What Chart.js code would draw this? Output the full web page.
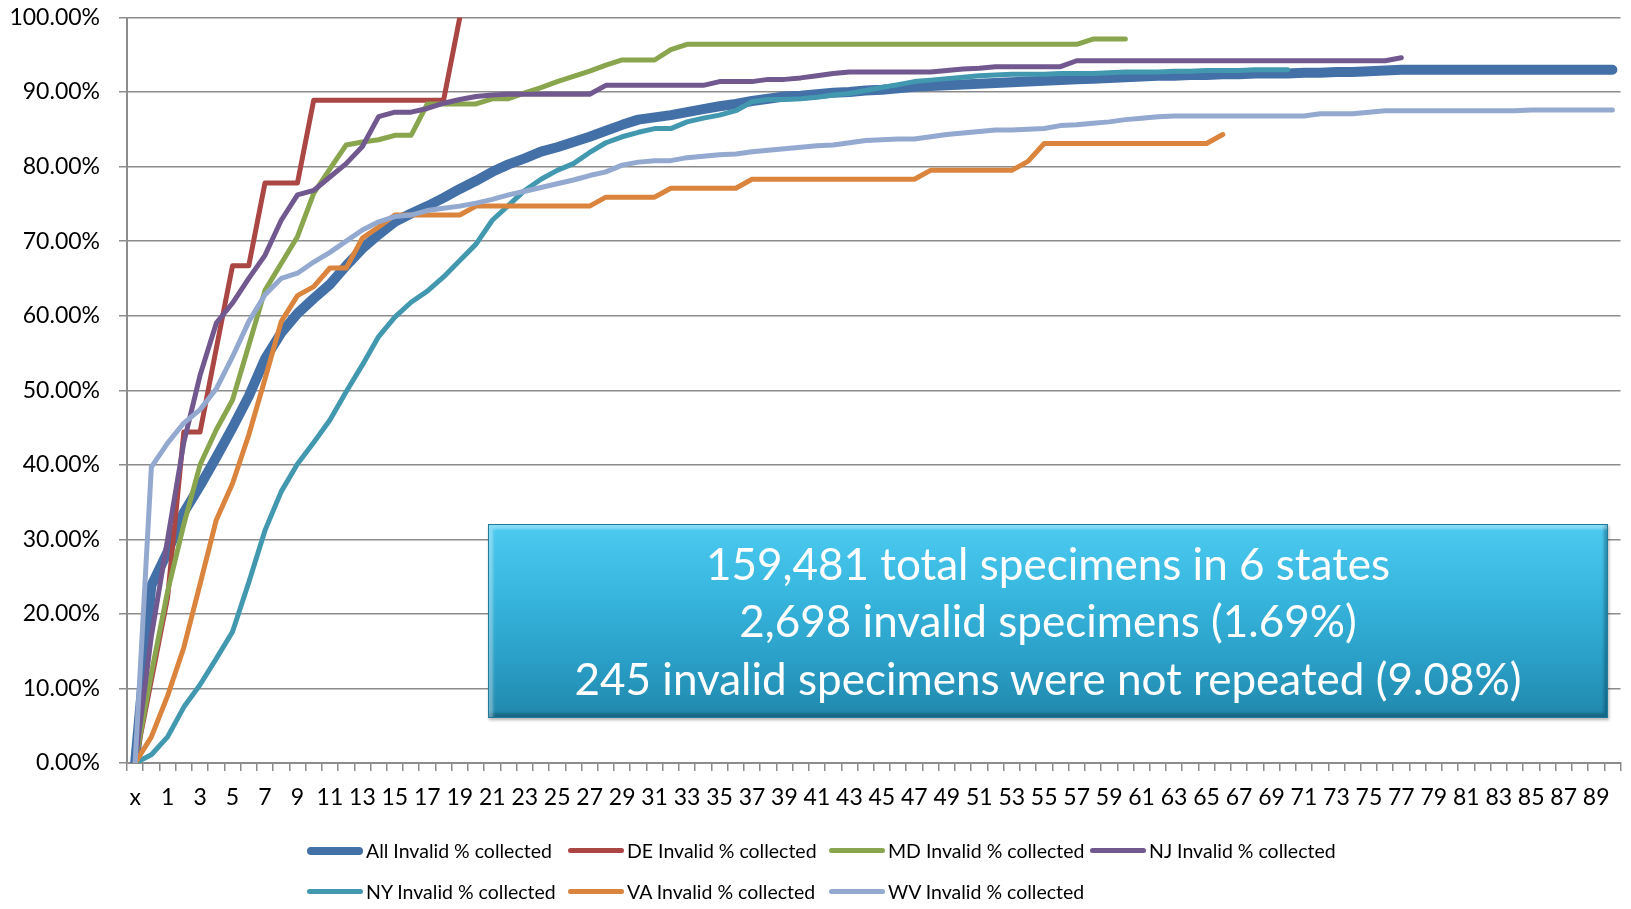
<!DOCTYPE html>
<html>
<head>
<meta charset="utf-8">
<title>Invalid specimens collected</title>
<script src="https://cdn.jsdelivr.net/npm/chart.js@4.4.0/dist/chart.umd.min.js"></script>
<style>
  body { margin: 0; background: #fff; }
  #wrap { position: relative; width: 1631px; height: 909px; }
  #note {
    position: absolute; left: 488px; top: 524px; width: 1120px; height: 194px;
    box-sizing: border-box;
    display: flex; flex-direction: column; justify-content: center; align-items: center;
    font-family: Lato, "Open Sans", sans-serif; font-size: 44px; line-height: 57.5px; color: #fff;
    background: linear-gradient(180deg, #4ccaf0 0%, #38b7df 35%, #2a9fc7 70%, #2188ac 100%);
    border: 1px solid #1f7c9b;
    box-shadow: inset 4px 4px 3px rgba(255,255,255,.35), inset -3px -4px 3px rgba(0,40,60,.35), 1px 2px 3px rgba(0,0,0,.3);
  }
  #legend {
    position: absolute; left: 307px; top: 830px;
    display: grid; grid-template-columns: repeat(4, 261px);
    font-family: Lato, "Open Sans", sans-serif; font-size: 19.5px; color: #000;
  }
  #legend .item { display: flex; align-items: center; height: 41px; white-space: nowrap; }
  #legend .sw { width: 56px; border-radius: 4px; margin-right: 3px; }
</style>
</head>
<body>
<div id="wrap">
  <canvas id="chart" width="1631" height="909"></canvas>
  <div id="note">
    <div>159,481 total specimens in 6 states</div>
    <div>2,698 invalid specimens (1.69%)</div>
    <div>245 invalid specimens were not repeated (9.08%)</div>
  </div>
  <div id="legend"></div>
</div>
<script>
// days since invalid result ("x" = the invalid test itself)
const days = ['x', '0', '1', '2', '3', '4', '5', '6', '7', '8', '9',
  '10', '11', '12', '13', '14', '15', '16', '17', '18', '19',
  '20', '21', '22', '23', '24', '25', '26', '27', '28', '29',
  '30', '31', '32', '33', '34', '35', '36', '37', '38', '39',
  '40', '41', '42', '43', '44', '45', '46', '47', '48', '49',
  '50', '51', '52', '53', '54', '55', '56', '57', '58', '59',
  '60', '61', '62', '63', '64', '65', '66', '67', '68', '69',
  '70', '71', '72', '73', '74', '75', '76', '77', '78', '79',
  '80', '81', '82', '83', '84', '85', '86', '87', '88', '89', '90'];

const allInvalid = [0, 23.8, 28.3, 33.6, 37.2, 41.0, 45.0, 49.2, 54.2, 57.7,
  60.3, 62.3, 64.2, 66.7, 69.0, 70.9, 72.6, 73.7, 74.7, 75.8,
  77.0, 78.1, 79.3, 80.3, 81.1, 82.0, 82.6, 83.3, 84.0, 84.8,
  85.6, 86.3, 86.6, 86.9, 87.3, 87.7, 88.1, 88.4, 88.8, 89.1,
  89.4, 89.5, 89.7, 89.9, 90.0, 90.2, 90.3, 90.5, 90.7, 90.8,
  90.9, 91.0, 91.1, 91.2, 91.3, 91.4, 91.5, 91.6, 91.7, 91.8,
  91.9, 92.0, 92.1, 92.2, 92.2, 92.3, 92.3, 92.4, 92.4, 92.5,
  92.5, 92.5, 92.6, 92.6, 92.7, 92.7, 92.8, 92.9, 93.0, 93.0,
  93.0, 93.0, 93.0, 93.0, 93.0, 93.0, 93.0, 93.0, 93.0, 93.0, 93.0, 93.0];

const deInvalid = [0, 11.1, 22.2, 44.4, 44.4, 55.6, 66.7, 66.7, 77.8, 77.8,
  77.8, 88.9, 88.9, 88.9, 88.9, 88.9, 88.9, 88.9, 88.9, 88.9, 100];

const mdInvalid = [0, 12, 23, 32, 40, 44.7, 48.7, 56.0, 63.4, 67.0,
  70.6, 76.4, 79.7, 82.9, 83.3, 83.6, 84.2, 84.2, 88.4, 88.4,
  88.4, 88.4, 89.1, 89.1, 89.9, 90.6, 91.4, 92.1, 92.8, 93.6,
  94.3, 94.3, 94.3, 95.7, 96.4, 96.4, 96.4, 96.4, 96.4, 96.4,
  96.4, 96.4, 96.4, 96.4, 96.4, 96.4, 96.4, 96.4, 96.4, 96.4,
  96.4, 96.4, 96.4, 96.4, 96.4, 96.4, 96.4, 96.4, 96.4, 97.1,
  97.1, 97.1];

const njInvalid = [0, 17, 30, 43, 52, 59.0, 61.7, 65.0, 68.1, 72.8,
  76.2, 76.8, 78.6, 80.4, 82.7, 86.7, 87.3, 87.3, 87.8, 88.5,
  89.0, 89.4, 89.6, 89.7, 89.7, 89.7, 89.7, 89.7, 89.7, 90.9,
  90.9, 90.9, 90.9, 90.9, 90.9, 90.9, 91.4, 91.4, 91.4, 91.7,
  91.7, 91.9, 92.2, 92.5, 92.7, 92.7, 92.7, 92.7, 92.7, 92.7,
  92.9, 93.1, 93.2, 93.4, 93.4, 93.4, 93.4, 93.4, 94.2, 94.2,
  94.2, 94.2, 94.2, 94.2, 94.2, 94.2, 94.2, 94.2, 94.2, 94.2,
  94.2, 94.2, 94.2, 94.2, 94.2, 94.2, 94.2, 94.2, 94.6];

const nyInvalid = [0, 1.1, 3.5, 7.5, 10.5, 14.0, 17.6, 24.2, 31.2, 36.4,
  40.1, 43.0, 46.0, 49.8, 53.4, 57.2, 59.8, 61.8, 63.3, 65.2,
  67.4, 69.6, 72.8, 74.8, 76.8, 78.3, 79.5, 80.4, 81.9, 83.2,
  84.0, 84.6, 85.1, 85.1, 86.0, 86.5, 86.9, 87.5, 88.7, 89.0,
  89.0, 89.1, 89.3, 89.6, 89.8, 90.2, 90.6, 91.0, 91.4, 91.6,
  91.8, 92.0, 92.2, 92.3, 92.4, 92.4, 92.4, 92.5, 92.5, 92.5,
  92.6, 92.7, 92.7, 92.7, 92.8, 92.8, 92.9, 92.9, 92.9, 93.0,
  93.0, 93.0];

const vaInvalid = [0, 3.5, 9.0, 15.5, 24.0, 32.6, 37.5, 44.0, 51.5, 59.2,
  62.7, 63.9, 66.4, 66.4, 70.4, 71.9, 73.5, 73.5, 73.5, 73.5,
  73.5, 74.7, 74.7, 74.7, 74.7, 74.7, 74.7, 74.7, 74.7, 75.9,
  75.9, 75.9, 75.9, 77.1, 77.1, 77.1, 77.1, 77.1, 78.3, 78.3,
  78.3, 78.3, 78.3, 78.3, 78.3, 78.3, 78.3, 78.3, 78.3, 79.5,
  79.5, 79.5, 79.5, 79.5, 79.5, 80.7, 83.1, 83.1, 83.1, 83.1,
  83.1, 83.1, 83.1, 83.1, 83.1, 83.1, 83.1, 84.3];

const wvInvalid = [0, 39.7, 42.9, 45.6, 47.4, 50.2, 54.5, 59.2, 62.8, 65.0,
  65.7, 67.2, 68.5, 70.0, 71.5, 72.6, 73.3, 73.5, 74.1, 74.4,
  74.7, 75.1, 75.6, 76.2, 76.7, 77.2, 77.7, 78.2, 78.8, 79.3,
  80.2, 80.6, 80.8, 80.8, 81.2, 81.4, 81.6, 81.7, 82.0, 82.2,
  82.4, 82.6, 82.8, 82.9, 83.2, 83.5, 83.6, 83.7, 83.7, 84.0,
  84.3, 84.5, 84.7, 84.9, 84.9, 85.0, 85.1, 85.5, 85.6, 85.8,
  86.0, 86.3, 86.5, 86.7, 86.8, 86.8, 86.8, 86.8, 86.8, 86.8,
  86.8, 86.8, 86.8, 87.1, 87.1, 87.1, 87.3, 87.5, 87.5, 87.5,
  87.5, 87.5, 87.5, 87.5, 87.5, 87.5, 87.6, 87.6, 87.6, 87.6, 87.6, 87.6];

const seriesNames = ['All Invalid % collected', 'DE Invalid % collected', 'MD Invalid % collected',
  'NJ Invalid % collected', 'NY Invalid % collected', 'VA Invalid % collected', 'WV Invalid % collected'];
const seriesValues = [allInvalid, deInvalid, mdInvalid, njInvalid, nyInvalid, vaInvalid, wvInvalid];

const colors = ['#4470a8', '#aa4643', '#89a54e', '#71588f', '#4198af', '#db843d', '#93a9cf'];
const gridColor = '#8c8c8c';
const tickFont = { family: 'Lato', size: 23 };

const datasets = seriesValues.map((vals, k) => ({
  label: seriesNames[k],
  data: vals,
  borderColor: colors[k],
  backgroundColor: colors[k],
  borderWidth: k === 0 ? 10 : 5,
  pointRadius: 0,
  tension: 0,
  fill: false,
  borderCapStyle: 'round',
  borderJoinStyle: 'round',
  order: seriesValues.length - k   // later series on top, like Excel
}));

const config = {
  type: 'line',
  data: { labels: days, datasets: datasets },
  options: {
    responsive: false,
    animation: false,
    layout: { padding: { top: 17.5, right: 10.5, left: 0, bottom: 0 } },
    plugins: {
      legend: { display: false },
      tooltip: { enabled: false }
    },
    scales: {
      x: {
        type: 'category',
        offset: true,
        afterFit: s => { s.height = 146; },
        grid: { offset: true, drawOnChartArea: false, drawTicks: true, tickLength: 8, color: gridColor, lineWidth: 1.5 },
        border: { color: gridColor, width: 2 },
        ticks: {
          autoSkip: false, maxRotation: 0, minRotation: 0,
          font: tickFont, color: '#000', padding: 13,
          callback: function (v, i) { return i % 2 === 0 ? this.getLabelForValue(v) : ''; }
        }
      },
      y: {
        min: 0, max: 100,
        // fixed axis width; don't let tick padding push the plot down
        afterFit: s => { s.width = 127; s.paddingTop = 4; s.paddingBottom = 4; },
        grid: { color: gridColor, lineWidth: 1.5, tickLength: 8 },
        border: { color: gridColor, width: 2 },
        ticks: {
          stepSize: 10, font: tickFont, color: '#000', padding: 19,
          callback: v => v.toFixed(2) + '%'
        }
      }
    }
  }
};

const myChart = new Chart(document.getElementById('chart'), config);

// legend laid out in fixed columns, as in the original
const legend = document.getElementById('legend');
myChart.data.datasets.forEach(ds => {
  const item = document.createElement('div');
  item.className = 'item';
  const sw = document.createElement('span');
  sw.className = 'sw';
  sw.style.background = ds.borderColor;
  sw.style.height = (ds.borderWidth === 10 ? 8 : 5) + 'px';
  item.appendChild(sw);
  item.appendChild(document.createTextNode(ds.label));
  legend.appendChild(item);
});
</script>
</body>
</html>
